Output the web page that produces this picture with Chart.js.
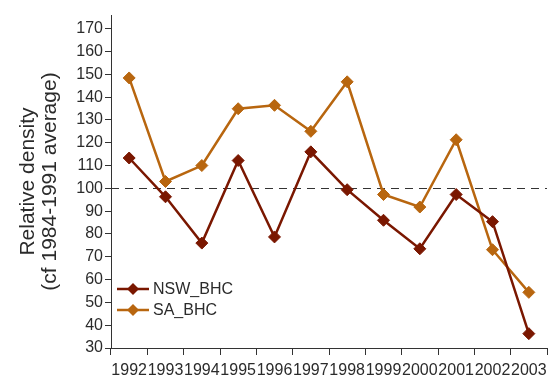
<!DOCTYPE html>
<html>
<head>
<meta charset="utf-8">
<script src="https://cdn.jsdelivr.net/npm/chart.js@4.4.1/dist/chart.umd.min.js"></script>
<style>
  html, body { margin: 0; padding: 0; background: #fff; }
  #wrap { width: 554px; height: 381px; }
</style>
</head>
<body>
<div id="wrap"><canvas id="chart"></canvas></div>
<script>
const years = ['1992', '1993', '1994', '1995', '1996', '1997', '1998', '1999', '2000', '2001', '2002', '2003'];
const nswBhc = [113.3, 96.3, 76, 112.2, 78.7, 116, 99.4, 86, 73.5, 97.3, 85.4, 36.3];
const saBhc = [148.4, 103, 110, 134.9, 136.4, 125, 146.7, 97.3, 91.8, 121.3, 73.1, 54.4];
const yTicks = [30, 40, 50, 60, 70, 80, 90, 100, 110, 120, 130, 140, 150, 160, 170];
const referenceLevel = 100;

const FONT = 'Liberation Sans, Arial, sans-serif';
const TEXT = '#2b2b2b';

// dashed line at the reference level
const refLine = {
    id: 'refLine',
    beforeDatasetsDraw(chart) {
        const { ctx, chartArea, scales } = chart;
        const y = Math.round(scales.y.getPixelForValue(referenceLevel)) + 0.5;
        ctx.save();
        ctx.strokeStyle = '#333';
        ctx.lineWidth = 1;
        ctx.setLineDash([8, 6]);
        ctx.beginPath();
        ctx.moveTo(chartArea.left, y);
        ctx.lineTo(chartArea.right, y);
        ctx.stroke();
        ctx.restore();
    }
};

// legend in lower-left corner of plot area
const cornerLegend = {
    id: 'cornerLegend',
    afterDraw(chart) {
        const { ctx, chartArea } = chart;
        ctx.save();
        chart.data.datasets.forEach((ds, i) => {
            const y = chartArea.top + 274 + i * 21;
            const x0 = chartArea.left + 6;
            ctx.strokeStyle = ds.borderColor;
            ctx.lineWidth = 2.5;
            ctx.beginPath();
            ctx.moveTo(x0, y);
            ctx.lineTo(x0 + 32, y);
            ctx.stroke();
            ctx.fillStyle = ds.pointBackgroundColor;
            ctx.beginPath();
            ctx.moveTo(x0 + 16, y - 6);
            ctx.lineTo(x0 + 22, y);
            ctx.lineTo(x0 + 16, y + 6);
            ctx.lineTo(x0 + 10, y);
            ctx.closePath();
            ctx.fill();
            ctx.fillStyle = TEXT;
            ctx.font = '16px ' + FONT;
            ctx.textBaseline = 'middle';
            ctx.fillText(ds.label, x0 + 36, y + 1);
        });
        ctx.restore();
    }
};

new Chart(document.getElementById('chart'), {
    type: 'line',
    data: {
        labels: years,
        datasets: [
            {
                label: 'NSW_BHC',
                data: nswBhc,
                borderColor: '#7a1700',
                backgroundColor: '#7a1700',
                pointBackgroundColor: '#7a1700',
                pointBorderColor: '#7a1700',
                borderWidth: 2.5,
                pointStyle: 'rectRot',
                pointRadius: 6,
                pointBorderWidth: 1,
                tension: 0
            },
            {
                label: 'SA_BHC',
                data: saBhc,
                borderColor: '#b8660f',
                backgroundColor: '#b8660f',
                pointBackgroundColor: '#b8660f',
                pointBorderColor: '#b8660f',
                borderWidth: 2.5,
                pointStyle: 'rectRot',
                pointRadius: 6,
                pointBorderWidth: 1,
                tension: 0
            }
        ]
    },
    options: {
        responsive: true,
        maintainAspectRatio: false,
        animation: false,
        layout: { padding: { top: 15, right: 0, left: 0, bottom: 0 } },
        plugins: {
            legend: { display: false },
            tooltip: { enabled: false }
        },
        scales: {
            x: {
                offset: true,
                grid: {
                    offset: true,
                    drawOnChartArea: false,
                    drawTicks: true,
                    tickLength: 7,
                    color: '#333'
                },
                border: { color: '#333', width: 1 },
                ticks: {
                    color: TEXT,
                    font: { family: FONT, size: 16 },
                    maxRotation: 0,
                    autoSkip: false,
                    padding: 6
                },
                afterFit(scale) { scale.height = 33; }
            },
            y: {
                min: 30,
                max: 176,
                afterBuildTicks(scale) {
                    scale.ticks = yTicks.map(v => ({ value: v }));
                },
                grid: {
                    drawOnChartArea: false,
                    drawTicks: true,
                    tickLength: 6,
                    color: '#333'
                },
                border: { color: '#333', width: 1 },
                ticks: {
                    color: TEXT,
                    font: { family: FONT, size: 16 },
                    padding: 2
                },
                title: {
                    display: true,
                    text: ['Relative density', '(cf 1984-1991 average)'],
                    color: TEXT,
                    font: { family: FONT, size: 21, lineHeight: 1.05 },
                    padding: { top: 17, bottom: 4 }
                },
                afterFit(scale) { scale.width = 111; }
            }
        }
    },
    plugins: [refLine, cornerLegend]
});
</script>
</body>
</html>
